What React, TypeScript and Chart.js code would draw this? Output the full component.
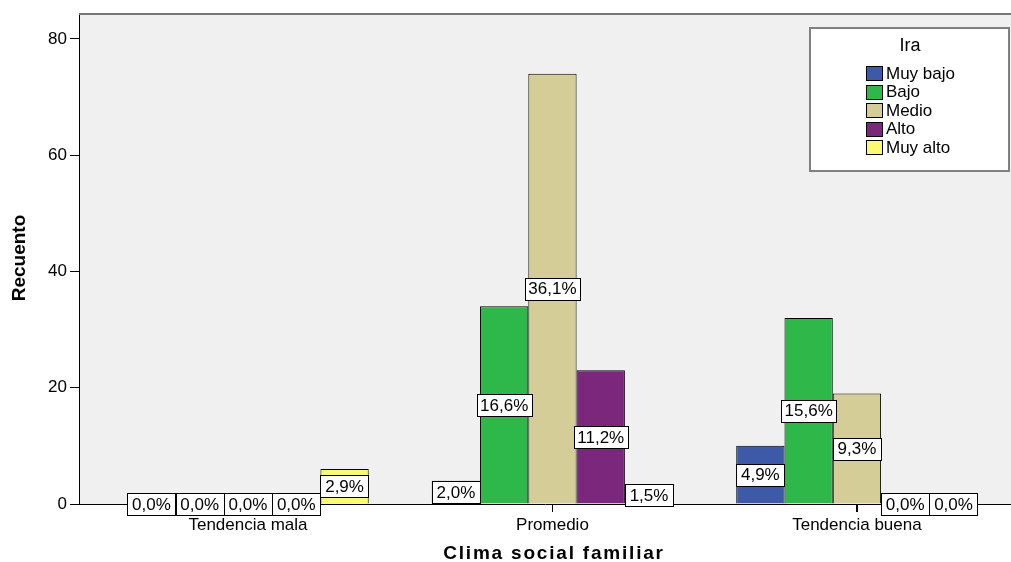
import React, { useEffect, useRef } from "react";
import { Chart, registerables } from "chart.js";

Chart.register(...registerables);

// ---- data ----
const categories = ["Tendencia mala", "Promedio", "Tendencia buena"];
const seriesNames = ["Muy bajo", "Bajo", "Medio", "Alto", "Muy alto"];
const muyBajo = [0, 4, 10];
const bajo = [0, 34, 32];
const medio = [0, 74, 19];
const alto = [0, 23, 0];
const muyAlto = [6, 3, 0];
const pctMuyBajo = ["0,0%", "2,0%", "4,9%"];
const pctBajo = ["0,0%", "16,6%", "15,6%"];
const pctMedio = ["0,0%", "36,1%", "9,3%"];
const pctAlto = ["0,0%", "11,2%", "0,0%"];
const pctMuyAlto = ["2,9%", "1,5%", "0,0%"];
const yTicks = [0, 20, 40, 60, 80];
const legendTitle = "Ira";
const xTitle = "Clima social familiar";
const yTitle = "Recuento";

const seriesValues = [muyBajo, bajo, medio, alto, muyAlto];
const seriesPcts = [pctMuyBajo, pctBajo, pctMedio, pctAlto, pctMuyAlto];
const seriesColors = ["#3d5aa9", "#2fb84a", "#d4cd98", "#7b287c", "#fbf873"];

const FONT = "'Liberation Sans', Arial, sans-serif";

const decor = {
  id: "decor",
  beforeDraw(chart: any) {
    const { ctx, chartArea: a, width, height } = chart;
    ctx.save();
    ctx.fillStyle = "#ffffff";
    ctx.fillRect(0, 0, width, height);
    ctx.fillStyle = "#f0f0f0";
    ctx.fillRect(a.left, a.top, a.right - a.left, a.bottom - a.top);
    ctx.restore();
  },
  afterDatasetsDraw(chart: any) {
    const { ctx, chartArea: a } = chart;
    ctx.save();
    // category tick marks below the axis
    const xs = chart.scales.x;
    ctx.strokeStyle = "#000";
    ctx.lineWidth = 1;
    categories.forEach((_, i) => {
      const px = Math.round(xs.getPixelForValue(i)) + 0.5;
      ctx.beginPath();
      ctx.moveTo(px, a.bottom);
      ctx.lineTo(px, a.bottom + 8);
      ctx.stroke();
    });
    ctx.font = `17px ${FONT}`;
    ctx.textAlign = "center";
    ctx.textBaseline = "middle";
    seriesPcts.forEach((pcts, i) => {
      const meta = chart.getDatasetMeta(i);
      meta.data.forEach((el: any, j: number) => {
        const p = el.getProps(["x", "y", "base", "width"], true);
        const cy = (p.y + p.base) / 2;
        const text = pcts[j];
        const tw = ctx.measureText(text).width;
        const bw = Math.max(p.width, tw + 7);
        const bh = 22;
        const x0 = Math.round(p.x - bw / 2) + 0.5;
        const y0 = Math.round(cy - bh / 2) + 0.5;
        ctx.fillStyle = "#ffffff";
        ctx.fillRect(x0, y0, Math.round(bw), bh);
        ctx.strokeStyle = "#000";
        ctx.lineWidth = 1;
        ctx.strokeRect(x0, y0, Math.round(bw), bh);
        ctx.fillStyle = "#000";
        ctx.fillText(text, p.x, cy + 1);
      });
    });
    ctx.restore();
  },
  afterDraw(chart: any) {
    const { ctx, chartArea: a } = chart;
    ctx.save();
    // top border
    ctx.strokeStyle = "#777";
    ctx.lineWidth = 2;
    ctx.beginPath();
    ctx.moveTo(a.left, a.top - 1);
    ctx.lineTo(a.right, a.top - 1);
    ctx.stroke();

    // legend
    ctx.fillStyle = "#ffffff";
    ctx.fillRect(810, 28, 199, 143);
    ctx.strokeStyle = "#808080";
    ctx.lineWidth = 2;
    ctx.strokeRect(810, 28, 199, 143);
    ctx.fillStyle = "#000";
    ctx.font = `18px ${FONT}`;
    ctx.textAlign = "center";
    ctx.textBaseline = "middle";
    ctx.fillText(legendTitle, 910, 46);
    ctx.font = `17px ${FONT}`;
    ctx.textAlign = "left";
    seriesNames.forEach((name, k) => {
      const yc = 73 + k * 18.5;
      ctx.fillStyle = seriesColors[k];
      ctx.fillRect(866.5, Math.round(yc - 7) + 0.5, 16, 14);
      ctx.strokeStyle = "#000";
      ctx.lineWidth = 1;
      ctx.strokeRect(866.5, Math.round(yc - 7) + 0.5, 16, 14);
      ctx.fillStyle = "#000";
      ctx.fillText(name, 886, yc + 1);
    });

    // axis titles
    ctx.fillStyle = "#000";
    ctx.font = `bold 19px ${FONT}`;
    ctx.textAlign = "center";
    ctx.textBaseline = "middle";
    ctx.save();
    ctx.translate(20, 258);
    ctx.rotate(-Math.PI / 2);
    ctx.fillText(yTitle, 0, 0);
    ctx.restore();
    (ctx as any).letterSpacing = "1.8px";
    ctx.fillText(xTitle, 554, 554);
    (ctx as any).letterSpacing = "0px";
    ctx.restore();
  },
};

export default function App() {
  const ref = useRef<HTMLCanvasElement | null>(null);
  useEffect(() => {
    document.body.style.margin = "0";
    const canvas = ref.current;
    if (!canvas) return;
    Chart.defaults.font.family = FONT;
    const chart = new Chart(canvas, {
      type: "bar",
      data: {
        datasets: seriesNames.map((name, i) => ({
          label: name,
          data: seriesValues[i].map((v, j) => ({ x: j, y: v })),
          backgroundColor: seriesColors[i],
          borderColor: "#000",
          borderWidth: 1,
          categoryPercentage: 0.793,
          barPercentage: 1,
        })),
      },
      options: {
        responsive: false,
        animation: false,
        layout: { padding: { top: 15, right: 0, left: 0, bottom: 0 } },
        plugins: { legend: { display: false }, tooltip: { enabled: false } },
        scales: {
          x: {
            type: "linear",
            offset: false,
            min: -0.555,
            max: 2.506,
            afterBuildTicks: (s: any) => {
              s.ticks = categories.map((_, i) => ({ value: i }));
            },
            afterFit: (s: any) => {
              s.height = 58;
            },
            ticks: {
              callback: (v: any) => categories[v] ?? "",
              font: { size: 17 },
              color: "#000",
              padding: 3,
              autoSkip: false,
              maxRotation: 0,
            },
            grid: { offset: false, drawOnChartArea: false, drawTicks: true, tickLength: 8, tickColor: "#000", color: "#000", lineWidth: 1 },
            border: { color: "#000", width: 1 },
          },
          y: {
            min: 0,
            max: 84.1,
            afterBuildTicks: (s: any) => {
              s.ticks = yTicks.map((v) => ({ value: v }));
            },
            afterFit: (s: any) => {
              s.width = 79;
            },
            ticks: { font: { size: 17 }, color: "#000", padding: 3 },
            grid: { drawOnChartArea: false, tickLength: 9, tickColor: "#000", color: "#000" },
            border: { color: "#000", width: 1 },
          },
        },
      },
      plugins: [decor],
    } as any);
    return () => chart.destroy();
  }, []);
  return (
    <div style={{ width: 1011, height: 562 }}>
      <canvas ref={ref} width={1011} height={562} />
    </div>
  );
}
